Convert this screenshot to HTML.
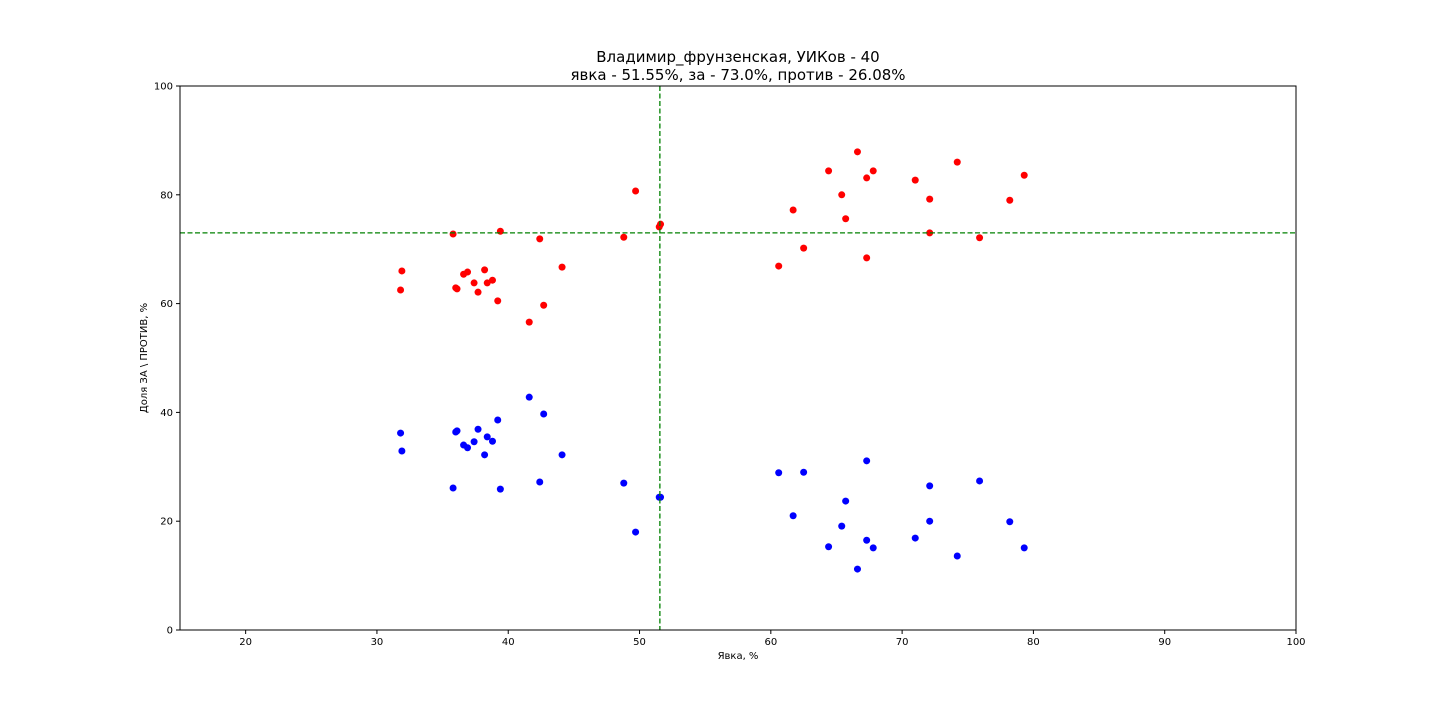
<!DOCTYPE html>
<html><head><meta charset="utf-8"><style>
html,body{margin:0;padding:0;background:#fff;}
svg{display:block;font-family:"DejaVu Sans","Liberation Sans",sans-serif;}
</style></head><body>
<svg id="chart" width="1440" height="720" xmlns="http://www.w3.org/2000/svg">
<text x="738" y="62" text-anchor="middle" font-size="15">Владимир_фрунзенская, УИКов - 40</text>
<text x="738" y="80" text-anchor="middle" font-size="15">явка - 51.55%, за - 73.0%, против - 26.08%</text>
<text x="738" y="659" text-anchor="middle" font-size="10">Явка, %</text>
<text transform="translate(147,358) rotate(-90)" text-anchor="middle" font-size="10">Доля ЗА \ ПРОТИВ, %</text>
<g id="axes"></g>
<g id="marks"></g>
<rect x="180" y="86" width="1116" height="544" fill="none" stroke="#000" stroke-width="1"/>
</svg>
<script>
const turnout = [31.9,31.8,35.8,36.0,36.1,36.6,36.9,37.4,37.7,38.2,38.4,38.8,39.2,39.4,41.6,42.4,42.7,44.1,48.8,49.7,51.5,51.6,60.6,61.7,62.5,64.4,65.4,65.7,66.6,67.3,67.3,67.8,71.0,72.1,72.1,74.2,75.9,78.2,79.3];
const forShare = [66.0,62.5,72.8,62.9,62.7,65.4,65.8,63.8,62.1,66.2,63.8,64.3,60.5,73.3,56.6,71.9,59.7,66.7,72.2,80.7,74.1,74.6,66.9,77.2,70.2,84.4,80.0,75.6,87.9,68.4,83.1,84.4,82.7,79.2,73.0,86.0,72.1,79.0,83.6];
const againstShare = [32.9,36.2,26.1,36.4,36.6,34.0,33.5,34.6,36.9,32.2,35.5,34.7,38.6,25.9,42.8,27.2,39.7,32.2,27.0,18.0,24.4,24.4,28.9,21.0,29.0,15.3,19.1,23.7,11.2,31.1,16.5,15.1,16.9,20.0,26.5,13.6,27.4,19.9,15.1];
const xTicks = [20,30,40,50,60,70,80,90,100];
const yTicks = [0,20,40,60,80,100];
const refTurnout = 51.55;
const refFor = 73.0;

const X0=180,X1=1296,Y0=630,Y1=86,XMIN=15,XMAX=100,YMIN=0,YMAX=100;
function sx(v){return X0+(v-XMIN)/(XMAX-XMIN)*(X1-X0);}
function sy(v){return Y0-(v-YMIN)/(YMAX-YMIN)*(Y0-Y1);}
const NS="http://www.w3.org/2000/svg";
function mk(tag,attrs,parent){const e=document.createElementNS(NS,tag);for(const k in attrs)e.setAttribute(k,attrs[k]);parent.appendChild(e);return e;}
const axes=document.getElementById('axes'), marks=document.getElementById('marks');
xTicks.forEach(t=>{
  const x=sx(t);
  const l=mk('line',{x1:x,x2:x,y1:Y0,y2:Y0+4,stroke:'#000'},axes);
  
  
  const tx=mk('text',{x:x,y:Y0+15,'text-anchor':'middle','font-size':'10'},axes);
  tx.textContent=t;
  
  
});
yTicks.forEach(t=>{
  const y=sy(t);
  const l=mk('line',{x1:X0-4,x2:X0,y1:y,y2:y,stroke:'#000'},axes);
  
  
  const tx=mk('text',{x:X0-7,y:y+3.5,'text-anchor':'end','font-size':'10'},axes);
  tx.textContent=t;
  
  
});
turnout.forEach((t,i)=>{
  const r=mk('circle',{cx:sx(t),cy:sy(forShare[i]),r:3.5,fill:'#ff0000'},marks);
  
  
  const b=mk('circle',{cx:sx(t),cy:sy(againstShare[i]),r:3.5,fill:'#0000ff'},marks);
  
  
});
const vl=mk('line',{x1:sx(refTurnout),x2:sx(refTurnout),y1:Y1,y2:Y0,stroke:'#008000','stroke-width':1.3,'stroke-dasharray':'5,2.5'},marks);


const hl=mk('line',{x1:X0,x2:X1,y1:sy(refFor),y2:sy(refFor),stroke:'#008000','stroke-width':1.3,'stroke-dasharray':'5,2.5'},marks);


</script>
</body></html>
